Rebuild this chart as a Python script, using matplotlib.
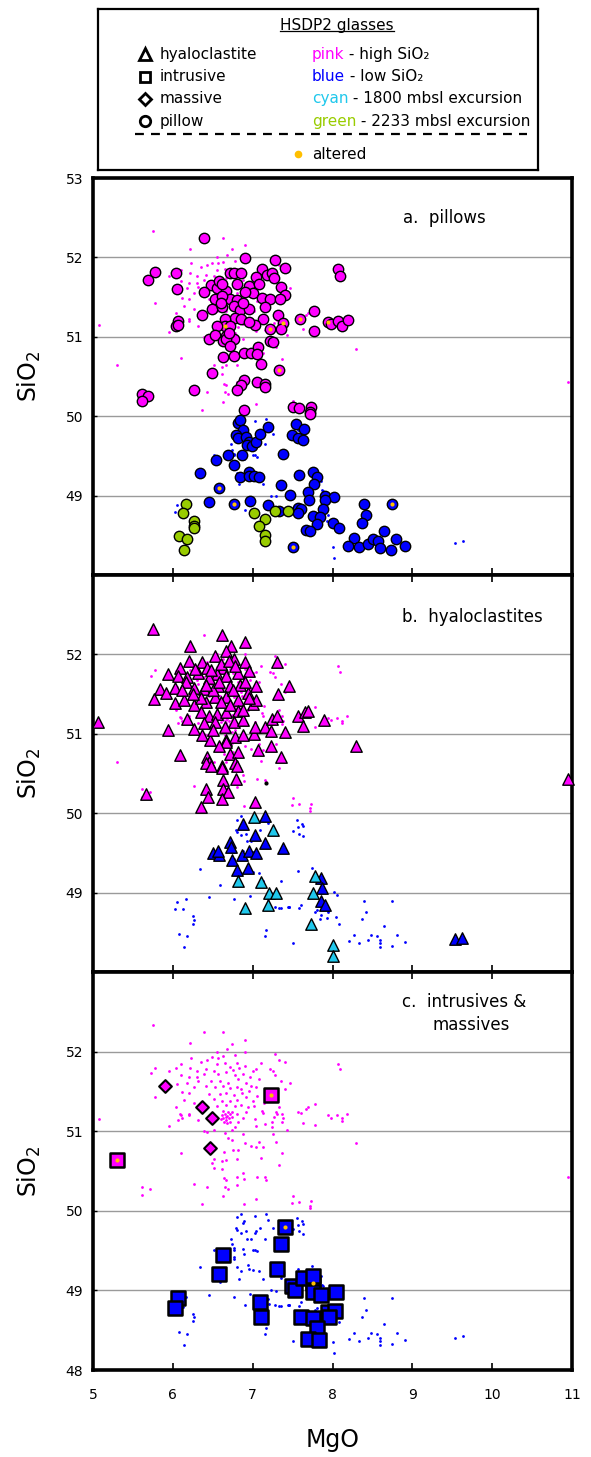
import numpy as np
import matplotlib.pyplot as plt

plt.rcParams['font.family'] = ['DejaVu Sans']

PINK = '#FF00FF'
BLUE = '#0000FF'
CYAN = '#20C8EC'
GREEN = '#99CC00'
ORANGE = '#FFBF00'

# ---- background dots: whole HSDP2 glass data set (MgO, SiO2) ----
pink_bg = [(5.755, 52.33), (6.39, 52.25), (6.63, 52.25), (6.91, 52.15), (6.22, 52.11), (6.74, 52.10),
           (6.68, 52.03), (6.55, 52.00), (6.91, 52.00), (7.28, 51.975), (7.33, 51.90), (7.40, 51.875),
           (7.10, 51.86), (7.22, 51.78), (7.25, 51.76), (7.28, 51.71), (6.23, 51.925), (6.43, 51.90),
           (6.49, 51.93), (6.57, 51.925), (6.63, 51.945), (6.78, 51.955), (6.80, 51.86), (6.65, 51.86),
           (6.55, 51.84), (6.35, 51.875), (6.10, 51.84), (6.04, 51.79), (5.95, 51.76), (5.78, 51.80),
           (5.73, 51.73), (6.22, 51.80), (6.30, 51.76), (6.42, 51.78), (6.51, 51.76), (6.72, 51.81),
           (6.75, 51.77), (6.83, 51.80), (6.90, 51.82), (7.00, 51.76), (7.04, 51.78), (6.10, 51.70),
           (6.20, 51.675), (6.30, 51.68), (6.39, 51.72), (6.57, 51.72), (6.67, 51.74), (6.78, 51.70),
           (6.88, 51.72), (6.97, 51.675), (7.08, 51.655), (7.36, 51.63), (7.47, 51.61), (6.05, 51.59),
           (6.18, 51.61), (6.31, 51.625), (6.48, 51.63), (6.59, 51.63), (6.69, 51.61), (6.82, 51.655),
           (6.92, 51.61), (6.98, 51.57), (6.27, 51.55), (6.41, 51.57), (6.53, 51.55), (6.63, 51.57),
           (6.71, 51.54), (6.80, 51.55), (6.86, 51.53), (6.95, 51.51), (7.04, 51.55), (7.41, 51.53),
           (6.12, 51.49), (6.20, 51.475), (6.45, 51.47), (6.59, 51.47), (6.67, 51.475), (6.76, 51.46),
           (6.87, 51.475), (7.06, 51.445), (5.78, 51.43), (6.14, 51.39), (6.51, 51.40), (6.61, 51.38),
           (6.71, 51.38), (6.80, 51.39), (6.92, 51.425), (7.00, 51.38), (7.14, 51.35), (7.29, 51.24),
           (7.37, 51.22), (6.55, 51.32), (6.67, 51.33), (6.78, 51.32), (6.86, 51.33), (6.94, 51.30),
           (7.02, 51.32), (6.04, 51.30), (6.27, 51.35), (6.92, 51.24), (6.74, 51.24), (6.63, 51.25),
           (6.10, 51.20), (6.20, 51.22), (7.12, 51.26), (7.33, 51.30),
           (6.62, 51.20), (6.65, 51.22), (6.68, 51.19), (6.70, 51.16), (6.66, 51.14), (6.63, 51.17),
           (6.72, 51.21), (6.69, 51.24), (6.64, 51.11), (6.71, 51.12), (6.60, 51.15), (6.74, 51.18),
           (6.67, 51.18), (6.68, 51.10),
           (6.09, 51.21), (6.07, 51.14), (6.11, 51.16), (6.20, 51.20), (5.95, 51.06), (6.31, 51.14),
           (6.39, 51.00), (6.43, 50.99), (6.51, 51.02), (6.80, 51.22), (6.82, 51.12), (6.88, 51.16),
           (6.78, 51.05), (6.74, 51.02), (6.65, 50.98), (6.69, 50.92), (6.74, 50.89), (6.88, 50.97),
           (6.91, 50.85), (6.98, 50.81), (7.04, 50.80), (7.03, 51.15), (7.04, 51.07), (7.13, 51.23),
           (7.16, 51.09), (7.24, 51.12), (7.27, 51.18), (7.31, 51.21), (7.38, 51.16), (7.24, 51.05),
           (7.43, 51.02), (7.25, 50.97), (7.29, 50.87), (7.08, 50.87), (7.13, 50.80), (6.75, 50.77),
           (6.64, 50.74), (6.82, 50.76), (7.10, 50.66), (7.37, 50.72), (7.33, 50.57), (6.10, 50.73),
           (6.51, 50.65), (6.49, 50.60), (6.51, 50.54), (6.62, 50.62), (6.67, 50.64), (6.62, 50.53),
           (6.80, 50.65), (6.64, 50.41), (6.67, 50.39), (6.80, 50.43), (6.88, 50.48), (6.89, 50.40),
           (6.80, 50.33), (7.06, 50.43), (7.16, 50.42), (7.17, 50.39), (6.26, 50.34), (6.43, 50.30),
           (6.65, 50.30), (6.69, 50.28), (6.63, 50.18), (7.04, 50.15), (6.89, 50.09), (6.36, 50.08),
           (5.71, 50.27), (7.51, 50.19), (7.49, 50.10),
           (8.07, 51.85), (8.09, 51.78), (7.57, 51.24), (7.61, 51.23), (7.67, 51.28), (7.78, 51.34),
           (7.69, 51.30), (7.94, 51.20), (7.98, 51.17), (8.06, 51.20), (8.18, 51.22), (8.12, 51.16),
           (8.12, 51.13), (5.07, 51.15), (7.63, 51.10), (7.78, 51.08), (8.29, 50.85), (5.30, 50.64),
           (5.61, 50.30), (5.61, 50.20), (7.58, 50.11), (7.73, 50.12), (7.72, 50.06), (7.72, 50.03),
           (10.95, 50.43), (7.37, 51.12)]

blue_bg = [(6.85, 49.96), (6.81, 49.92), (7.03, 49.94), (7.17, 49.96), (7.19, 49.88), (6.88, 49.85),
           (6.89, 49.87), (6.79, 49.79), (6.80, 49.76), (6.86, 49.72), (6.92, 49.74), (7.03, 49.72),
           (7.04, 49.74), (7.09, 49.79), (7.26, 49.78), (7.55, 49.91), (7.62, 49.87), (7.63, 49.84),
           (7.58, 49.74), (7.63, 49.71), (7.50, 49.77), (7.57, 49.82), (6.98, 49.65), (6.93, 49.65),
           (7.16, 49.65), (6.73, 49.65), (6.74, 49.58), (6.52, 49.51), (6.76, 49.53), (6.76, 49.51),
           (6.88, 49.52), (6.89, 49.46), (7.01, 49.51), (7.03, 49.51), (7.05, 49.49), (6.34, 49.30),
           (6.80, 49.29), (6.85, 49.25), (6.94, 49.32), (6.96, 49.27), (7.01, 49.26), (7.08, 49.25),
           (6.83, 49.14), (7.13, 49.14), (7.35, 49.15), (6.59, 49.10), (7.74, 49.31), (7.86, 49.18),
           (7.88, 49.06), (7.23, 49.00), (7.29, 48.99), (6.45, 48.94), (6.76, 48.92), (6.97, 48.96),
           (6.76, 49.40), (6.76, 49.42),
           (6.91, 48.82), (7.19, 48.89), (7.20, 48.83), (7.28, 48.82), (7.33, 48.81), (7.44, 48.82),
           (7.46, 48.82), (7.58, 48.80), (7.60, 48.85), (6.16, 48.92), (6.25, 48.70), (6.27, 48.66),
           (6.25, 48.61), (6.08, 48.48), (6.18, 48.45), (6.14, 48.31), (7.17, 48.53), (7.15, 48.45),
           (7.51, 48.37), (8.02, 49.01), (7.87, 49.07), (6.05, 48.88), (6.13, 48.79), (6.03, 48.79),
           (7.57, 49.27), (7.45, 48.82), (7.35, 48.80), (8.40, 48.90), (8.74, 48.90), (8.42, 48.75),
           (8.37, 48.67), (8.64, 48.58), (8.27, 48.47), (8.48, 48.46), (8.56, 48.45), (8.81, 48.46),
           (8.21, 48.39), (8.33, 48.36), (8.45, 48.40), (8.60, 48.40), (8.59, 48.36), (8.60, 48.32),
           (8.74, 48.33), (8.91, 48.38), (8.01, 48.35), (8.02, 48.21), (7.78, 48.76), (8.08, 48.60),
           (7.89, 48.90), (8.06, 48.97), (7.81, 48.78), (7.93, 48.68), (7.94, 48.75), (8.04, 48.69),
           (7.86, 48.72), (7.84, 48.67), (9.53, 48.40), (9.63, 48.43)]

# ---- a. pillows ----
pillow_pink = [(6.39, 52.25), (6.91, 51.99), (7.28, 51.97), (7.40, 51.87), (8.07, 51.86), (8.09, 51.77),
               (5.78, 51.81), (5.69, 51.71), (6.04, 51.80), (6.05, 51.60), (6.71, 51.80), (6.76, 51.80),
               (6.86, 51.80), (7.12, 51.85), (7.18, 51.78), (7.24, 51.80), (7.27, 51.74), (7.04, 51.75),
               (7.35, 51.63), (7.41, 51.53), (6.48, 51.65), (6.55, 51.62), (6.39, 51.56), (6.67, 51.58),
               (6.80, 51.66), (6.96, 51.64), (7.08, 51.67), (7.00, 51.55), (7.12, 51.49), (7.22, 51.47),
               (7.34, 51.47), (6.53, 51.47), (6.71, 51.47), (6.80, 51.46), (6.49, 51.35), (6.36, 51.28),
               (6.61, 51.37), (6.76, 51.39), (6.84, 51.34), (6.95, 51.35), (7.15, 51.37), (7.32, 51.28),
               (7.77, 51.33), (7.13, 51.23), (6.78, 51.24), (6.86, 51.22), (6.65, 51.22), (6.65, 51.14),
               (6.71, 51.13), (6.55, 51.14), (6.06, 51.20), (6.04, 51.13), (6.07, 51.15), (7.03, 51.15),
               (7.22, 51.10), (7.38, 51.17), (7.35, 51.10), (7.59, 51.23), (7.77, 51.07), (7.94, 51.19),
               (7.98, 51.16), (8.07, 51.20), (8.12, 51.14), (8.19, 51.21), (6.45, 50.97), (6.53, 51.02),
               (6.63, 50.95), (6.67, 51.01), (6.76, 50.97), (6.66, 50.97), (7.22, 50.95), (7.25, 50.93),
               (6.72, 50.89), (6.63, 50.74), (6.76, 50.76), (6.89, 50.80), (6.98, 50.80), (7.07, 50.87),
               (7.05, 50.78), (7.10, 50.66), (7.33, 50.58), (6.49, 50.54), (6.89, 50.46), (6.86, 50.39),
               (6.80, 50.33), (7.06, 50.43), (7.16, 50.41), (7.16, 50.37), (6.26, 50.33), (5.61, 50.28),
               (5.69, 50.26), (5.61, 50.19), (6.89, 50.08), (7.51, 50.12), (7.58, 50.10), (7.73, 50.11),
               (7.72, 50.05), (7.72, 50.03), (6.58, 51.70), (6.62, 51.67), (6.90, 51.56), (6.62, 51.52),
               (6.88, 51.42), (6.60, 51.43), (6.95, 51.19), (6.70, 51.05)]
pillow_blue = [(6.82, 49.92), (6.84, 49.95), (6.88, 49.83), (6.79, 49.76), (6.82, 49.73), (6.92, 49.74),
               (6.96, 49.68), (6.93, 49.64), (6.99, 49.63), (7.04, 49.68), (7.09, 49.78), (7.19, 49.87),
               (7.54, 49.90), (7.64, 49.84), (7.49, 49.76), (7.57, 49.72), (7.63, 49.70), (7.38, 49.53),
               (6.69, 49.51), (6.87, 49.51), (6.54, 49.45), (6.76, 49.38), (6.34, 49.28), (6.84, 49.24),
               (6.96, 49.30), (6.95, 49.25), (7.02, 49.25), (7.08, 49.23), (6.58, 49.09), (7.35, 49.13),
               (7.47, 49.01), (7.58, 49.26), (7.75, 49.30), (7.81, 49.24), (7.77, 49.15), (7.69, 49.04),
               (7.70, 48.94), (6.45, 48.92), (6.76, 48.90), (6.97, 48.93), (7.19, 48.88), (7.33, 48.80),
               (7.57, 48.85), (7.61, 48.83), (7.57, 48.78), (7.91, 48.99), (8.02, 48.98), (7.90, 48.95),
               (7.88, 48.83), (7.76, 48.74), (7.84, 48.73), (7.80, 48.64), (7.67, 48.57), (7.72, 48.55),
               (8.00, 48.65), (8.08, 48.59), (8.40, 48.90), (8.42, 48.75), (8.37, 48.66), (8.74, 48.89),
               (8.64, 48.56), (8.27, 48.46), (8.20, 48.37), (8.33, 48.35), (8.45, 48.39), (8.51, 48.45),
               (8.57, 48.43), (8.59, 48.34), (8.73, 48.31), (8.80, 48.45), (8.91, 48.36), (7.51, 48.35)]
pillow_green = [(6.16, 48.90), (6.13, 48.78), (6.27, 48.68), (6.26, 48.62), (6.27, 48.59), (6.08, 48.49),
                (6.18, 48.45), (6.14, 48.31), (7.02, 48.78), (7.16, 48.70), (7.08, 48.62), (7.16, 48.51),
                (7.15, 48.43), (7.28, 48.80), (7.44, 48.80)]
pillow_altered = [(6.65, 51.14), (7.22, 51.10), (7.38, 51.17), (7.59, 51.23), (7.94, 51.19), (7.33, 50.58),
                  (6.58, 49.09), (6.76, 48.90), (8.74, 48.89), (7.51, 48.35)]

# ---- b. hyaloclastites ----
hyalo_pink = [(5.75, 52.32), (6.61, 52.25), (6.21, 52.11), (6.90, 52.15), (6.73, 52.10), (6.67, 52.04),
              (7.31, 51.90), (5.94, 51.75), (6.09, 51.83), (6.20, 51.92), (6.37, 51.90), (6.43, 51.83),
              (6.53, 51.98), (6.63, 51.83), (6.76, 51.94), (6.90, 51.90), (6.96, 51.79), (6.06, 51.73),
              (6.18, 51.71), (6.31, 51.77), (6.55, 51.75), (6.67, 51.73), (6.82, 51.77), (7.04, 51.60),
              (7.45, 51.60), (5.84, 51.56), (5.92, 51.52), (6.03, 51.58), (6.16, 51.65), (6.27, 51.58),
              (6.39, 51.56), (6.57, 51.60), (6.71, 51.60), (6.84, 51.62), (6.94, 51.52), (7.32, 51.50),
              (5.77, 51.44), (6.03, 51.39), (6.14, 51.42), (6.26, 51.36), (6.41, 51.40), (6.53, 51.46),
              (6.67, 51.46), (6.82, 51.42), (7.00, 51.38), (7.04, 51.42), (6.18, 51.19), (6.35, 51.27),
              (6.45, 51.23), (6.55, 51.25), (6.67, 51.27), (6.82, 51.29), (6.76, 51.15), (6.88, 51.17),
              (6.39, 51.13), (6.53, 51.15), (6.65, 51.08), (6.27, 51.06), (6.37, 50.98), (6.47, 50.92),
              (6.67, 50.92), (6.78, 50.96), (6.88, 50.98), (7.02, 51.00), (7.03, 51.08), (7.16, 51.08),
              (7.24, 51.19), (7.31, 51.23), (7.23, 51.03), (7.41, 51.02), (7.57, 51.23), (7.65, 51.27),
              (7.69, 51.29), (7.63, 51.10), (7.89, 51.17), (8.29, 50.85), (5.06, 51.15), (5.94, 51.05),
              (6.09, 50.73), (6.43, 50.71), (6.45, 50.65), (6.41, 50.63), (6.61, 50.60), (6.67, 50.90),
              (6.71, 50.75), (6.82, 50.77), (6.78, 50.63), (7.07, 50.79), (7.23, 50.85), (7.36, 50.71),
              (6.48, 50.59), (6.61, 50.57), (6.80, 50.59), (6.63, 50.42), (6.79, 50.43), (6.42, 50.30),
              (6.44, 50.20), (6.63, 50.30), (6.69, 50.27), (6.61, 50.18), (6.35, 50.08), (5.66, 50.24),
              (7.03, 50.14), (10.95, 50.43), (6.45, 51.70), (6.60, 51.88), (6.70, 51.92), (6.50, 51.55),
              (6.60, 51.40), (6.75, 51.55), (6.48, 51.80), (6.35, 51.45), (6.25, 51.50), (6.90, 51.65),
              (6.72, 51.36), (6.58, 51.65), (6.42, 51.62), (6.88, 51.30), (6.12, 51.55), (6.28, 51.82),
              (6.78, 51.85), (6.95, 51.45), (6.50, 51.05), (6.58, 50.85)]
hyalo_blue = [(7.16, 49.96), (6.88, 49.86), (7.03, 49.73), (7.16, 49.63), (7.38, 49.56), (6.71, 49.64),
              (6.73, 49.57), (6.50, 49.50), (6.58, 49.47), (6.57, 49.52), (6.74, 49.41), (6.87, 49.47),
              (6.96, 49.52), (7.04, 49.50), (6.80, 49.28), (6.94, 49.31), (7.86, 49.18), (7.87, 49.06),
              (7.85, 48.90), (7.90, 48.84), (9.53, 48.42), (9.62, 48.43)]
hyalo_cyan = [(7.02, 49.95), (7.25, 49.79), (6.82, 49.14), (7.11, 49.13), (7.21, 49.00), (7.29, 48.99),
              (7.78, 49.21), (7.75, 48.99), (6.90, 48.81), (7.19, 48.84), (7.73, 48.61), (8.01, 48.34),
              (8.01, 48.20)]
hyalo_other = [(7.17, 50.38)]

# ---- c. intrusives & massives ----
massive_pink = [(5.90, 51.57), (6.37, 51.30), (6.49, 51.17), (6.47, 50.79)]
intrusive_pink = [(7.23, 51.46), (5.30, 50.64)]
intrusive_blue = [(7.76, 49.09), (7.40, 49.80), (7.36, 49.58), (6.63, 49.45), (6.58, 49.21), (7.31, 49.27),
                  (6.06, 48.90), (6.03, 48.78), (7.09, 48.85), (7.10, 48.66), (7.49, 49.05), (7.53, 49.00),
                  (7.63, 49.16), (7.76, 49.18), (7.76, 48.98), (7.86, 48.94), (8.05, 48.98), (7.61, 48.67),
                  (7.76, 48.65), (7.94, 48.73), (8.03, 48.74), (7.96, 48.66), (7.80, 48.53), (7.69, 48.39),
                  (7.83, 48.38)]
intrusive_altered = [(7.23, 51.46), (5.30, 50.64), (7.40, 49.80), (7.76, 49.09)]

xticks = [5, 6, 7, 8, 9, 10, 11]
yticks = [48, 49, 50, 51, 52, 53]
ylabels_a = ['', '49', '50', '51', '52', '53']
ylabels_b = ['', '49', '50', '51', '52', '']
ylabels_c = ['48', '49', '50', '51', '52', '']

W, H = 591, 1457
fig = plt.figure(figsize=(W / 100, H / 100), dpi=100)


def add_px_axes(left, top, right, bottom):
    return fig.add_axes([left / W, 1 - bottom / H, (right - left) / W, (bottom - top) / H])


def pts(lst):
    a = np.array(lst)
    return a[:, 0], a[:, 1]


def scatter(ax, data, marker, color, s, lw=1.0, z=3):
    x, y = pts(data)
    ax.scatter(x, y, marker=marker, s=s, c=color, edgecolors='black', linewidths=lw,
               zorder=z, clip_on=False)


def setup(ax, ylabels, top_ticks, title_lines, show_x):
    ax.set_xlim(5, 11)
    ax.set_ylim(48, 53)
    ax.set_xticks(xticks)
    ax.set_yticks(yticks)
    ax.set_yticklabels(ylabels, fontsize=10)
    ax.grid(axis='y', color='#9a9a9a', lw=1.0)
    ax.tick_params(axis='x', direction='in', length=5, width=1.2, top=top_ticks,
                   labelbottom=show_x, labelsize=10, pad=13)
    ax.tick_params(axis='y', direction='in', length=3, width=1.0, pad=7)
    for sp in ax.spines.values():
        sp.set_linewidth(2.6)
    ax.set_ylabel('SiO$_2$', fontsize=17)
    ax.yaxis.set_label_coords(-0.105, 0.5)
    for txt, x, y in title_lines:
        ax.text(x, y, txt, transform=ax.transAxes, fontsize=12, ha='left', va='center')
    # background data set
    x, y = pts(pink_bg)
    ax.scatter(x, y, s=4, c=PINK, linewidths=0, zorder=2, clip_on=False)
    x, y = pts(blue_bg)
    ax.scatter(x, y, s=4, c=BLUE, linewidths=0, zorder=2)


def altered(ax, data):
    x, y = pts(data)
    ax.scatter(x, y, s=9, c=ORANGE, linewidths=0, zorder=6, clip_on=False)


left, right = 93, 572
ax_a = add_px_axes(left, 178, right, 575)
ax_b = add_px_axes(left, 575, right, 972)
ax_c = add_px_axes(left, 972, right, 1370)

setup(ax_a, ylabels_a, False, [('a.  pillows', 0.648, 0.899)], False)
scatter(ax_a, pillow_pink, 'o', PINK, 56)
scatter(ax_a, pillow_blue, 'o', BLUE, 56)
scatter(ax_a, pillow_green, 'o', GREEN, 56)
altered(ax_a, pillow_altered)

setup(ax_b, ylabels_b, True, [('b.  hyaloclastites', 0.646, 0.894)], False)
scatter(ax_b, hyalo_pink, '^', PINK, 68)
scatter(ax_b, hyalo_blue, '^', BLUE, 68)
scatter(ax_b, hyalo_cyan, '^', CYAN, 68)
x, y = pts(hyalo_other)
ax_b.scatter(x, y, s=9, c='black', linewidths=0, zorder=6)

setup(ax_c, ylabels_c, True, [('c.  intrusives &', 0.646, 0.925), ('massives', 0.708, 0.867)], True)
scatter(ax_c, massive_pink, 'D', PINK, 42, lw=1.5)
scatter(ax_c, intrusive_pink, 's', PINK, 90, lw=1.8)
scatter(ax_c, intrusive_blue, 's', BLUE, 90, lw=1.8)
altered(ax_c, intrusive_altered)
ax_c.set_xticklabels([str(v) for v in xticks])
ax_c.set_xlabel('MgO', fontsize=17)
ax_c.xaxis.set_label_coords(0.5, -0.145)

# ---- legend box ----
lax = add_px_axes(98, 9, 538, 170)
lax.set_xlim(0, 1)
lax.set_ylim(0, 1)
lax.set_xticks([])
lax.set_yticks([])
for sp in lax.spines.values():
    sp.set_linewidth(1.6)

shape_names = ['hyaloclastite', 'intrusive', 'massive', 'pillow']
shape_markers = ['^', 's', 'D', 'o']
shape_sizes = [8, 7.5, 6, 7.5]
color_words = ['pink', 'blue', 'cyan', 'green']
color_values = [PINK, BLUE, CYAN, GREEN]
color_desc = [' - high SiO\u2082', ' - low SiO\u2082', ' - 1800 mbsl excursion', ' - 2233 mbsl excursion']
row_y = [0.72, 0.578, 0.441, 0.304]

title = lax.text(0.543, 0.90, 'HSDP2 glasses', fontsize=11, ha='center', va='center')
for name, mk, ms, word, col, desc, yy in zip(shape_names, shape_markers, shape_sizes,
                                              color_words, color_values, color_desc, row_y):
    lax.plot([0.107], [yy], marker=mk, ms=ms, mfc='white', mec='black', mew=2.0, ls='none')
    lax.text(0.141, yy, name, fontsize=11, ha='left', va='center')
    t = lax.text(0.486, yy, word, fontsize=11, color=col, ha='left', va='center')
    lax.annotate(desc, xy=(1, 0), xycoords=t, fontsize=11, ha='left', va='bottom')

lax.plot([0.084, 0.975], [0.224, 0.224], color='black', lw=1.6, ls=(0, (4, 3.2)))
lax.plot([0.455], [0.099], marker='o', ms=4.5, color=ORANGE, ls='none')
lax.text(0.486, 0.099, 'altered', fontsize=11, ha='left', va='center')

fig.canvas.draw()
bb = title.get_window_extent()
inv = lax.transData.inverted()
(x0, y0), (x1, _) = inv.transform([(bb.x0, bb.y0 + 1.5), (bb.x1, bb.y0)])
lax.plot([x0, x1], [y0, y0], color='black', lw=0.9)

fig.savefig('out.png', dpi=100)
